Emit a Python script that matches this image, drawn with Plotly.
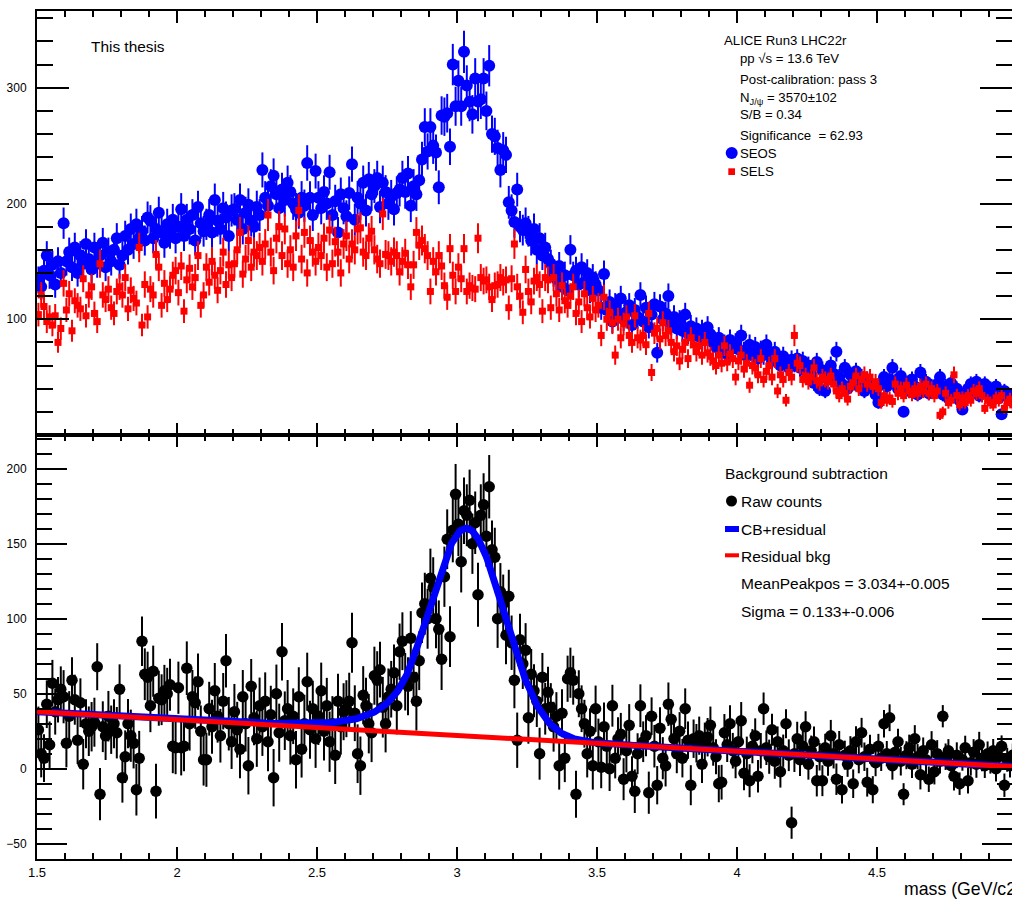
import numpy as np
import plotly.graph_objects as go

# ---------------------------------------------------------------------------
# Di-electron invariant-mass spectra, 10 MeV/c2 bins from 1.5 to 5.0 GeV/c2
# ---------------------------------------------------------------------------
mass_min = 1.5
mass_max = 5.0
bin_width = 0.01
mass = np.round(np.arange(mass_min + bin_width / 2, mass_max, bin_width), 4)

# Same-event opposite-sign pairs (SEOS)
seos_counts = [
    134, 128, 142, 155, 138, 147, 130, 150, 140, 183,
    150, 158, 145, 162, 140, 155, 148, 165, 152, 143,
    162, 148, 155, 166, 145, 158, 150, 160, 170, 147,
    155, 172, 160, 178, 165, 182, 170, 176, 168, 188,
    185, 170, 178, 192, 175, 166, 182, 174, 186, 170,
    180, 195, 172, 186, 178, 190, 168, 197, 183, 176,
    182, 190, 175, 203, 185, 178, 196, 188, 172, 194,
    195, 186, 203, 178, 192, 199, 185, 180, 197, 190,
    229, 205, 198, 215, 224, 208, 196, 212, 203, 218,
    210, 200, 195, 192, 205, 198, 235, 205, 190, 228,
    205, 196, 210, 200, 227, 190, 202, 175, 208, 196,
    189, 209, 234, 186, 205, 200, 218, 194, 221, 208,
    215, 222, 197, 218, 210, 200, 206, 195, 209, 212,
    222, 210, 226, 198, 215, 208, 220, 238, 266, 245,
    266, 250, 244, 214, 276, 275, 278, 249, 320, 284,
    306, 284, 331, 302, 288, 277, 308, 288, 290, 308,
    280, 319, 260, 258, 248, 229, 246, 242, 201, 194,
    184, 212, 180, 177, 183, 176, 168, 178, 160, 170,
    155, 162, 152, 148, 140, 135, 146, 128, 138, 125,
    160, 138, 142, 130, 145, 132, 140, 125, 136, 130,
    125, 110, 139, 108, 115, 98, 112, 104, 118, 100,
    106, 112, 95, 108, 102, 121, 98, 110, 93, 104,
    113, 71, 111, 100, 105, 120, 96, 102, 92, 98,
    90, 104, 88, 94, 86, 92, 85, 90, 82, 93,
    87, 80, 76, 84, 72, 78, 70, 82, 75, 79,
    74, 86, 72, 68, 78, 70, 76, 66, 73, 69,
    78, 70, 64, 72, 66, 60, 68, 63, 58, 65,
    62, 66, 58, 64, 55, 60, 52, 45, 63, 40,
    56, 38, 48, 60, 53, 72, 50, 44, 58, 40,
    52, 46, 55, 42, 50, 38, 48, 44, 40, 35,
    28, 45, 50, 42, 48, 58, 46, 40, 51, 20,
    44, 38, 48, 42, 35, 54, 40, 46, 36, 42,
    38, 44, 50, 35, 42, 32, 45, 38, 40, 30,
    22, 36, 40, 44, 38, 46, 34, 42, 44, 37,
    40, 35, 42, 32, 18, 38, 36, 30, 34, 28,
]

# Same-event like-sign pairs (SELS)
sels_counts = [
    104, 121, 111, 98, 102, 95, 103, 80, 92, 131,
    108, 122, 90, 116, 112, 109, 135, 103, 121, 128,
    105, 98, 148, 121, 117, 126, 110, 105, 124, 128,
    121, 136, 109, 125, 118, 114, 162, 95, 130, 102,
    126, 121, 156, 145, 112, 131, 117, 126, 138, 142,
    123, 146, 107, 134, 144, 128, 136, 155, 112, 121,
    145, 132, 150, 138, 125, 142, 158, 130, 147, 136,
    148, 160, 175, 139, 152, 168, 145, 158, 155, 162,
    150, 165, 190, 158, 142, 170, 180, 155, 178, 148,
    160, 145, 172, 194, 152, 175, 140, 168, 158, 150,
    162, 155, 170, 145, 177, 148, 167, 158, 140, 165,
    172, 152, 165, 160, 178, 179, 158, 155, 170, 176,
    160, 152, 148, 191, 156, 155, 150, 158, 155, 141,
    150, 157, 147, 128, 147, 175, 164, 168, 161, 155,
    124, 150, 141, 155, 146, 129, 119, 161, 138, 124,
    145, 135, 161, 124, 129, 127, 126, 170, 136, 133,
    134, 128, 117, 129, 130, 136, 132, 134, 110, 135,
    165, 128, 120, 106, 143, 124, 115, 133, 136, 130,
    107, 136, 134, 110, 136, 122, 108, 129, 116, 112,
    120, 128, 105, 115, 98, 122, 110, 102, 118, 108,
    112, 86, 119, 100, 106, 97, 69, 100, 84, 96,
    102, 86, 80, 103, 84, 82, 86, 78, 105, 54,
    88, 92, 83, 97, 86, 90, 80, 72, 77, 64,
    74, 80, 66, 84, 78, 72, 77, 69, 80, 71,
    68, 64, 60, 69, 62, 77, 63, 70, 66, 50,
    64, 69, 57, 62, 43, 60, 58, 52, 66, 48,
    55, 60, 50, 66, 38, 52, 48, 30, 54, 50,
    86, 62, 60, 48, 51, 46, 50, 58, 47, 45,
    50, 48, 46, 51, 44, 38, 34, 40, 36, 31,
    42, 45, 51, 40, 48, 52, 44, 50, 42, 46,
    40, 28, 34, 30, 32, 29, 44, 36, 40, 34,
    43, 38, 35, 40, 36, 42, 38, 44, 36, 40,
    34, 38, 17, 20, 36, 28, 30, 52, 34, 26,
    32, 28, 34, 30, 38, 36, 40, 34, 23, 30,
    28, 26, 32, 30, 34, 23, 28, 31, 26, 30,
]

# Like-sign subtracted spectrum (raw counts)
raw_counts = [
    26, 10, 7, 43, 16, 57, 38, 46, 53, 48,
    17, 35, 59, 46, 19, 44, 3, 30, 25, 28,
    31, 68, -17, 28, 22, 35, 26, 30, 24, 53,
    -6, 8, 30, 22, 17, -14, 7, 85, 63, 61,
    42, 65, -15, 47, 46, 52, 50, 56, 15, 14,
    54, 14, 15, 67, 30, 48, 44, 58, 25, 6,
    6, 40, 28, 52, 35, 22, 45, 72, 30, 18,
    38, 26, 13, 48, 30, 2, 55, 34, 20, 42,
    28, 45, 18, 36, -6, 50, 24, 78, 32, 40,
    22, 35, 6, 48, 13, 30, 58, 26, 40, 20,
    35, 52, 25, 42, 18, 30, 9, 45, 28, 38,
    40, 45, 84, 37, 10, 2, 49, 42, 30, 24,
    62, 59, 66, 41, 30, 48, 53, 64, 42, 78,
    85, 58, 55, 87, 61, 45, 72, 104, 110, 100,
    127, 121, 100, 93, 73, 128, 153, 88, 159, 183,
    163, 138, 172, 169, 179, 150, 164, 116, 169, 176,
    155, 188, 146, 141, 100, 118, 110, 89, 115, 84,
    59, 19, 86, 70, 79, 34, 63, 52, 45, 10,
    61, 40, 51, 41, 28, 35, 2, 37, 7, 60,
    64, 59, -17, 50, 40, 30, 10, 25, 2, 40,
    18, 1, 28, 15, 0, 42, 7, 20, 23, -7,
    12, 29, -5, -15, 10, 42, 18, 22, -16, 35,
    15, -11, 27, 7, 2, 43, 33, 20, 10, 25,
    7, 40, 19, -11, 20, 17, 22, 3, 18, 21,
    29, 14, 8, -10, -9, 24, 16, 30, 12, 5,
    18, 32, -3, 10, -8, 15, 22, -5, 12, 40,
    14, 8, 26, 5, 18, -2, 12, 30, 9, -36,
    10, 20, 6, 15, 28, 3, 12, 18, -8, 8,
    -8, 14, 5, 22, 10, -7, 16, -14, 9, 3,
    12, -10, 18, 6, 24, 8, -9, 13, -14, 4,
    15, 7, 30, 10, 34, 2, 11, 18, 5, -17,
    9, 14, 3, 20, 8, -4, 12, 6, -7, 16,
    -2, 10, 5, 35, 8, 12, 2, -5, 9, -10,
    6, 14, -8, 4, 11, 3, 16, 7, 2, 10,
    5, 12, 0, 8, 15, -11, 6, 2, 9, 4,
]

assert len(seos_counts) == len(sels_counts) == len(raw_counts) == len(mass)

# Fit results: Crystal Ball signal on top of a linear residual background
cb_norm = 138.5
cb_mean = 3.034
cb_sigma = 0.133
cb_alpha = 1.5
cb_n = 5.0
resid_p0 = 53.7
resid_p1 = -10.5

seos = np.array(seos_counts, dtype=float)
sels = np.array(sels_counts, dtype=float)
raw = np.array(raw_counts, dtype=float)
seos_err = np.sqrt(seos)
sels_err = np.sqrt(sels)
raw_err = np.sqrt(seos + sels)


def crystal_ball(x, norm, mean, sigma, alpha, n):
    t = (x - mean) / sigma
    a = (n / alpha) ** n * np.exp(-0.5 * alpha ** 2)
    b = n / alpha - alpha
    core = np.exp(-0.5 * t ** 2)
    tail = a * np.power(np.clip(b - t, 1e-9, None), -n)
    return norm * np.where(t > -alpha, core, tail)


def residual_bkg(x):
    return resid_p0 + resid_p1 * x


fit_mass = np.linspace(mass_min, mass_max, 1401)
fit_bkg = residual_bkg(fit_mass)
fit_total = fit_bkg + crystal_ball(fit_mass, cb_norm, cb_mean, cb_sigma, cb_alpha, cb_n)

# ---------------------------------------------------------------------------
# Canvas geometry (pixels)
# ---------------------------------------------------------------------------
W, H = 1012, 899
ML, MR, MT, MB = 37, 0, 11, 40
PX_PER_GEV = 280.0
x_hi = mass_min + (W - ML - MR) / PX_PER_GEV


def px_x(p):
    return (p - ML) / (W - ML - MR)


def px_y(p):
    return (H - MB - p) / (H - MT - MB)


BLUE = "#0000ff"
RED = "#ff0000"
BLACK = "#000000"
FONT = "Liberation Sans, Arial, Helvetica, sans-serif"

fig = go.Figure()

# Upper pad: SEOS and SELS spectra
fig.add_trace(go.Scatter(
    x=mass, y=seos, mode="markers", xaxis="x", yaxis="y",
    marker=dict(symbol="circle", size=12, color=BLUE, line=dict(width=0)),
    error_y=dict(type="data", array=seos_err, visible=True, thickness=2, width=0, color=BLUE),
    name="SEOS", hoverinfo="x+y",
))
fig.add_trace(go.Scatter(
    x=mass, y=sels, mode="markers", xaxis="x", yaxis="y",
    marker=dict(symbol="square", size=7, color=RED, line=dict(width=0)),
    error_y=dict(type="data", array=sels_err, visible=True, thickness=2, width=0, color=RED),
    name="SELS", hoverinfo="x+y",
))

# Lower pad: subtracted spectrum with fit
fig.add_trace(go.Scatter(
    x=mass, y=raw, mode="markers", xaxis="x2", yaxis="y2",
    marker=dict(symbol="circle", size=11.5, color=BLACK, line=dict(width=0)),
    error_y=dict(type="data", array=raw_err, visible=True, thickness=2, width=0, color=BLACK),
    name="Raw counts", hoverinfo="x+y",
))
fig.add_trace(go.Scatter(
    x=fit_mass, y=fit_total, mode="lines", xaxis="x2", yaxis="y2",
    line=dict(color=BLUE, width=7), name="CB+residual", hoverinfo="skip",
))
fig.add_trace(go.Scatter(
    x=fit_mass, y=fit_bkg, mode="lines", xaxis="x2", yaxis="y2",
    line=dict(color=RED, width=5), name="Residual bkg", hoverinfo="skip",
))

axis_common = dict(
    showline=True, linewidth=2, linecolor=BLACK, mirror="ticks",
    ticks="inside", tickwidth=2, tickcolor=BLACK,
    showgrid=False, zeroline=False,
    tickfont=dict(family=FONT, size=12, color=BLACK),
)

fig.update_layout(
    width=W, height=H,
    margin=dict(l=ML, r=MR, t=MT, b=MB, autoexpand=False),
    paper_bgcolor="white", plot_bgcolor="white",
    showlegend=False,
    font=dict(family=FONT, color=BLACK),
    xaxis=dict(
        axis_common, domain=[0, 1], anchor="y", range=[mass_min, x_hi],
        tick0=1.5, dtick=0.5, ticklen=12, showticklabels=False,
        minor=dict(dtick=0.1, tick0=1.5, ticklen=6, tickwidth=2, tickcolor=BLACK, ticks="inside"),
    ),
    yaxis=dict(
        axis_common, domain=[0.5, 1], anchor="x", range=[0, 366.3],
        tickvals=[100, 200, 300],
        ticklen=32, ticklabelstandoff=6,
        minor=dict(dtick=20, tick0=0, ticklen=16, tickwidth=2, tickcolor=BLACK, ticks="inside"),
    ),
    xaxis2=dict(
        axis_common, domain=[0, 1], anchor="y2", range=[mass_min, x_hi],
        tick0=1.5, dtick=0.5, ticklen=12, tickfont=dict(family=FONT, size=13, color=BLACK),
        minor=dict(dtick=0.1, tick0=1.5, ticklen=6, tickwidth=2, tickcolor=BLACK, ticks="inside"),
    ),
    yaxis2=dict(
        axis_common, domain=[0, 0.5], anchor="x2", range=[-60.2, 222.5],
        tick0=0, dtick=50, ticklen=30, ticklabelstandoff=6,
        minor=dict(dtick=10, tick0=0, ticklen=15, tickwidth=2, tickcolor=BLACK, ticks="inside"),
    ),
)

annotations = []
TEXT_DX = -1.0


def add_text(text, x, y, size):
    annotations.append(dict(
        text=text, x=px_x(x + TEXT_DX), y=px_y(y), xref="paper", yref="paper",
        xanchor="left", yanchor="middle", showarrow=False, borderpad=0,
        font=dict(family=FONT, size=size, color=BLACK),
    ))


add_text("This thesis", 90.7, 46.2, 15.4)

# Upper pad info block
add_text("ALICE Run3 LHC22r", 724.3, 40.7, 13.2)
add_text("pp √s = 13.6 TeV", 740, 59, 13.2)
add_text("Post-calibration: pass 3", 740, 79, 13.2)
add_text("N<sub>J/ψ</sub> = 3570±102", 740, 98, 13.2)
add_text("S/B = 0.34", 740, 115, 13.2)
add_text("Significance  = 62.93", 740, 135, 13.2)
add_text("SEOS", 740, 153, 13.2)
add_text("SELS", 740, 171.5, 13.2)

# Lower pad info block
add_text("Background subtraction", 725, 473.3, 15.5)
add_text("Raw counts", 740.7, 501, 15.5)
add_text("CB+residual", 740.7, 529, 15.5)
add_text("Residual bkg", 740.7, 556.7, 15.5)
add_text("MeanPeakpos = 3.034+-0.005", 740.7, 583.3, 15.5)
add_text("Sigma = 0.133+-0.006", 740.7, 611, 15.5)

# Axis title at the far end of the mass axis (runs past the canvas edge)
add_text("mass (GeV/c2)", 904, 889, 17.7)

fig.update_layout(annotations=annotations)

# Legend markers
shapes = [
    dict(type="circle", xref="paper", yref="paper",
         x0=px_x(725.7), x1=px_x(737.7), y0=px_y(159), y1=px_y(147),
         fillcolor=BLUE, line=dict(width=0)),
    dict(type="rect", xref="paper", yref="paper",
         x0=px_x(728.3), x1=px_x(735), y0=px_y(175), y1=px_y(168.3),
         fillcolor=RED, line=dict(width=0)),
    dict(type="circle", xref="paper", yref="paper",
         x0=px_x(726), x1=px_x(737), y0=px_y(506.5), y1=px_y(495.5),
         fillcolor=BLACK, line=dict(width=0)),
    dict(type="rect", xref="paper", yref="paper",
         x0=px_x(725), x1=px_x(739), y0=px_y(532), y1=px_y(526),
         fillcolor=BLUE, line=dict(width=0)),
    dict(type="rect", xref="paper", yref="paper",
         x0=px_x(725), x1=px_x(739), y0=px_y(557.3), y1=px_y(553.3),
         fillcolor=RED, line=dict(width=0)),
]
fig.update_layout(shapes=shapes)

fig.write_html("out.html")
